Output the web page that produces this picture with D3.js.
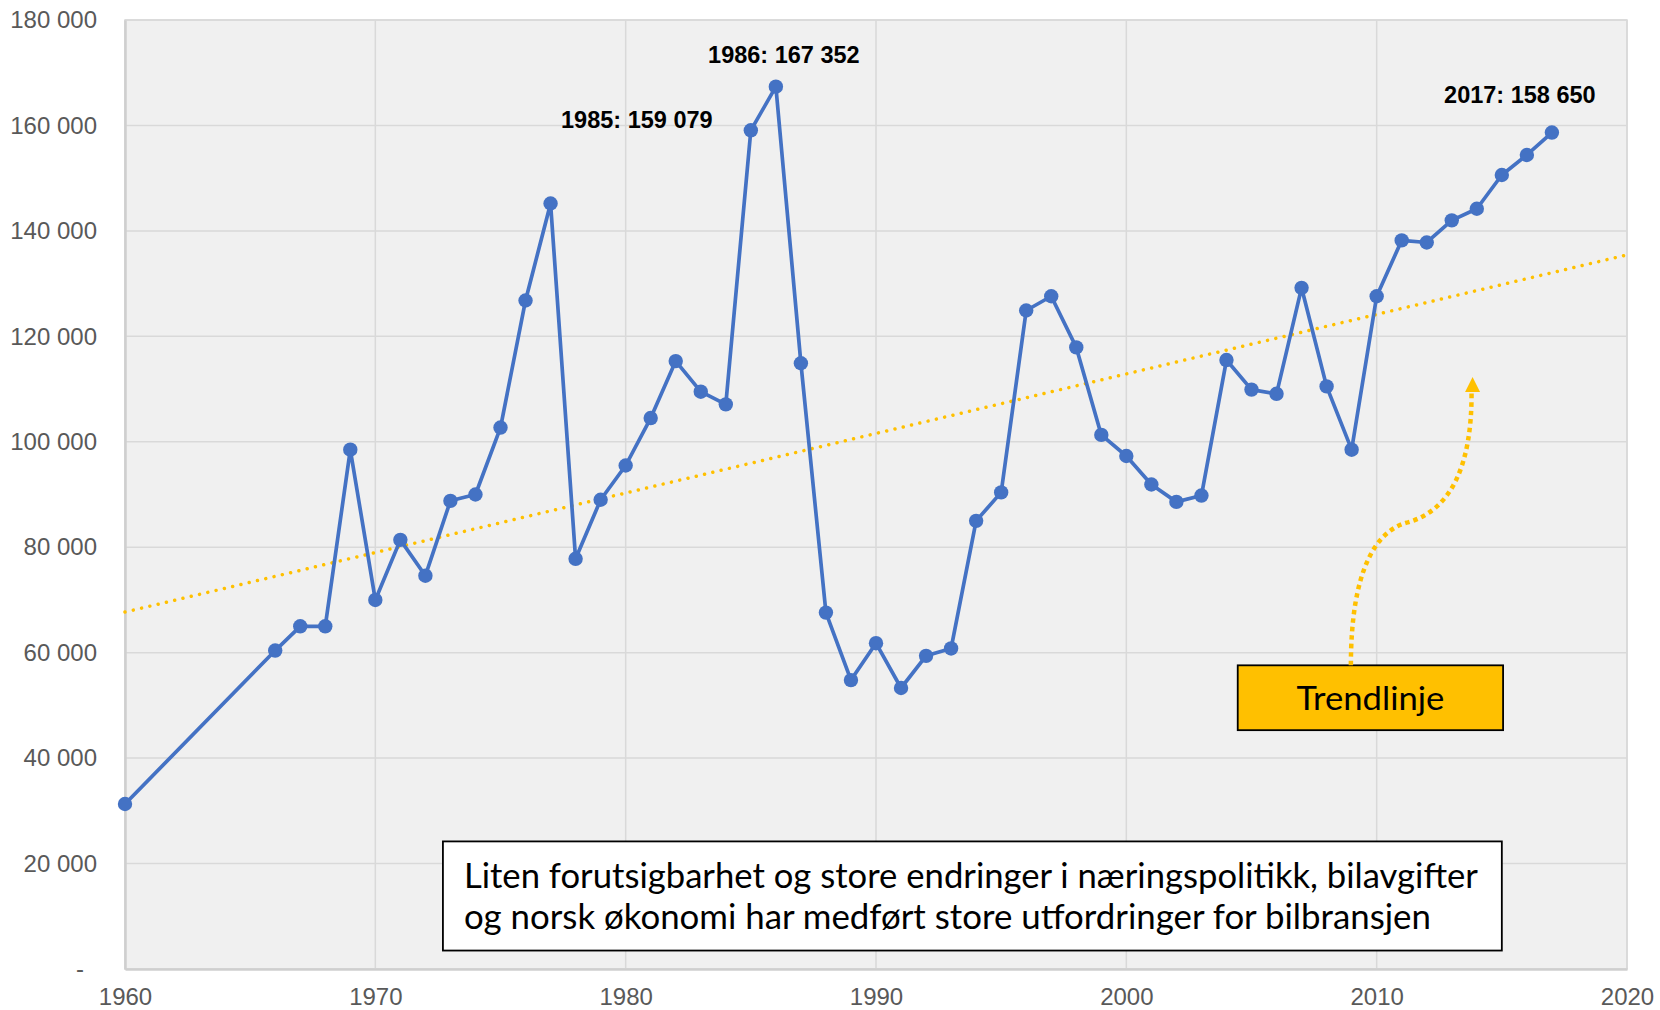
<!DOCTYPE html>
<html>
<head>
<meta charset="utf-8">
<script src="https://cdn.jsdelivr.net/npm/d3@7/dist/d3.min.js"></script>
<style>
html,body{margin:0;padding:0;background:#fff;}
svg{display:block;}
</style>
</head>
<body>
<svg id="chart" width="1660" height="1010"></svg>
<script>
// ---------- DATA ----------
const years = [1960,1966,1967,1968,1969,1970,1971,1972,1973,1974,1975,1976,1977,1978,1979,
  1980,1981,1982,1983,1984,1985,1986,1987,1988,1989,1990,1991,1992,1993,1994,1995,1996,1997,
  1998,1999,2000,2001,2002,2003,2004,2005,2006,2007,2008,2009,2010,2011,2012,2013,2014,2015,2016,2017];
const sales = [31300,60400,65000,65000,98500,70000,81400,74600,88800,90000,102700,126800,145200,77800,89000,
  95500,104500,115300,109500,107100,159079,167352,114900,67600,54800,61800,53300,59400,60800,85000,90400,124900,127600,
  117900,101300,97300,91900,88600,89800,115500,109900,109100,129200,110500,98500,127600,138200,137800,142000,144200,150600,154400,158650];
const trendYears = [1960, 2020];
const trendValues = [67700, 135450];
const xTicks = [1960,1970,1980,1990,2000,2010,2020];
const yTicks = [0,20000,40000,60000,80000,100000,120000,140000,160000,180000];
const labelYears = [1985, 1986, 2017];
const labelTexts = ["1985: 159 079", "1986: 167 352", "2017: 158 650"];
const noteLines = ["Liten forutsigbarhet og store endringer i næringspolitikk, bilavgifter",
                   "og norsk økonomi har medført store utfordringer for bilbransjen"];
const trendLabel = "Trendlinje";

// ---------- LAYOUT ----------
const svg = d3.select("#chart");
const L = 125, R = 1627, T = 20, B = 969;
const x = d3.scaleLinear().domain([1960, 2020]).range([L, R]);
const y = d3.scaleLinear().domain([0, 180000]).range([B, T]);

const fmt = v => v === 0 ? "-" : d3.format(",")(v).replace(/,/g, " ");

// plot background
svg.append("rect").attr("x", L).attr("y", T).attr("width", R - L).attr("height", B - T)
  .attr("fill", "#f0f0f0");

// grid
svg.append("g").selectAll("line").data(yTicks).join("line")
  .attr("x1", L).attr("x2", R).attr("y1", d => y(d)).attr("y2", d => y(d))
  .attr("stroke", "#d9d9d9").attr("stroke-width", 1.5);
svg.append("g").selectAll("line").data(xTicks).join("line")
  .attr("y1", T).attr("y2", B).attr("x1", d => x(d)).attr("x2", d => x(d))
  .attr("stroke", "#d9d9d9").attr("stroke-width", 1.5);
svg.append("rect").attr("x", L).attr("y", T).attr("width", R - L).attr("height", B - T)
  .attr("fill", "none").attr("stroke", "#d9d9d9").attr("stroke-width", 1.5);

// axes
const yAxis = d3.axisLeft(y).tickValues(yTicks).tickFormat(fmt).tickSize(0).tickPadding(28);
const gy = svg.append("g").attr("transform", `translate(${L},0)`).call(yAxis);
gy.select(".domain").attr("stroke", "#cfcfcf").attr("stroke-width", 2.5);
gy.selectAll("text").attr("font-family", "'Liberation Sans', Arial, sans-serif")
  .attr("font-size", 24).attr("fill", "#595959")
  .attr("dx", d => d === 0 ? -13 : 0);

const xAxis = d3.axisBottom(x).tickValues(xTicks).tickFormat(d3.format("d")).tickSize(0).tickPadding(19);
const gx = svg.append("g").attr("transform", `translate(0,${B})`).call(xAxis);
gx.select(".domain").attr("stroke", "#cfcfcf").attr("stroke-width", 2.5);
gx.selectAll("text").attr("font-family", "'Liberation Sans', Arial, sans-serif")
  .attr("font-size", 24).attr("fill", "#595959");

// trend line
svg.append("line")
  .attr("x1", x(trendYears[0])).attr("y1", y(trendValues[0]))
  .attr("x2", x(trendYears[1])).attr("y2", y(trendValues[1]))
  .attr("stroke", "#ffc000").attr("stroke-width", 3.5)
  .attr("stroke-dasharray", "0.01 8.5").attr("stroke-linecap", "round");

// series line
const pts = years.map((yr, i) => [yr, sales[i]]);
svg.append("path").datum(pts)
  .attr("d", d3.line().x(d => x(d[0])).y(d => y(d[1])))
  .attr("fill", "none").attr("stroke", "#4472c4").attr("stroke-width", 3.7)
  .attr("stroke-linejoin", "round");
svg.append("g").selectAll("circle").data(pts).join("circle")
  .attr("cx", d => x(d[0])).attr("cy", d => y(d[1])).attr("r", 7.2)
  .attr("fill", "#4472c4");

// data labels
const labelOffsets = [[-114, -2], [8, -24], [-32, -30]];
svg.append("g").selectAll("text").data(labelYears).join("text")
  .attr("x", (d, i) => x(d) + labelOffsets[i][0])
  .attr("y", (d, i) => y(sales[years.indexOf(d)]) + labelOffsets[i][1])
  .attr("text-anchor", "middle")
  .attr("font-family", "'Liberation Sans', Arial, sans-serif")
  .attr("font-weight", "bold").attr("font-size", 23.5).attr("fill", "#000")
  .text((d, i) => labelTexts[i]);

// note box
const nb = {x0: 1972.7, x1: 2015.0, v0: 24200, v1: 3500};
svg.append("rect").attr("x", x(nb.x0)).attr("y", y(nb.v0))
  .attr("width", x(nb.x1) - x(nb.x0)).attr("height", y(nb.v1) - y(nb.v0))
  .attr("fill", "#fff").attr("stroke", "#000").attr("stroke-width", 1.8);
const noteWidths = [1014, 967];
const noteBase = [887.5, 928.5];
noteLines.forEach((t, i) => {
  svg.append("text").attr("x", x(nb.x0) + 21).attr("y", noteBase[i])
    .attr("font-family", "Lato, 'Open Sans', sans-serif").attr("font-size", 34)
    .attr("fill", "#000")
    .attr("textLength", noteWidths[i]).attr("lengthAdjust", "spacingAndGlyphs")
    .text(t);
});

// trend label box
const tb = {x0: 2004.45, x1: 2015.05, v0: 57600, v1: 45300};
svg.append("rect").attr("x", x(tb.x0)).attr("y", y(tb.v0))
  .attr("width", x(tb.x1) - x(tb.x0)).attr("height", y(tb.v1) - y(tb.v0))
  .attr("fill", "#ffc000").attr("stroke", "#000").attr("stroke-width", 1.8);
svg.append("text").attr("x", (x(tb.x0) + x(tb.x1)) / 2).attr("y", 709.5)
  .attr("text-anchor", "middle")
  .attr("font-family", "Lato, 'Open Sans', sans-serif").attr("font-size", 33)
  .attr("textLength", 148).attr("lengthAdjust", "spacingAndGlyphs")
  .attr("fill", "#000").text(trendLabel);

// curved dotted arrow (anchored to data coordinates)
const sx = x(2008.97), sy = y(57600);
const tipX = x(2013.83), tipY = y(112300);
const pathD = `M${sx},${sy} C${sx},${sy-95} ${sx+25},${sy-135} ${sx+57},${sy-143}` +
  ` C${sx+100},${sy-155} ${sx+121},${sy-200} ${tipX-1},${tipY+16}`;
svg.append("path").attr("d", pathD).attr("fill", "none")
  .attr("stroke", "#ffc000").attr("stroke-width", 4.5).attr("stroke-dasharray", "4.5 4");
svg.append("path")
  .attr("d", `M${tipX},${tipY} L${tipX-7.5},${tipY+15} L${tipX+7.5},${tipY+15} Z`)
  .attr("fill", "#ffc000");
</script>
</body>
</html>
